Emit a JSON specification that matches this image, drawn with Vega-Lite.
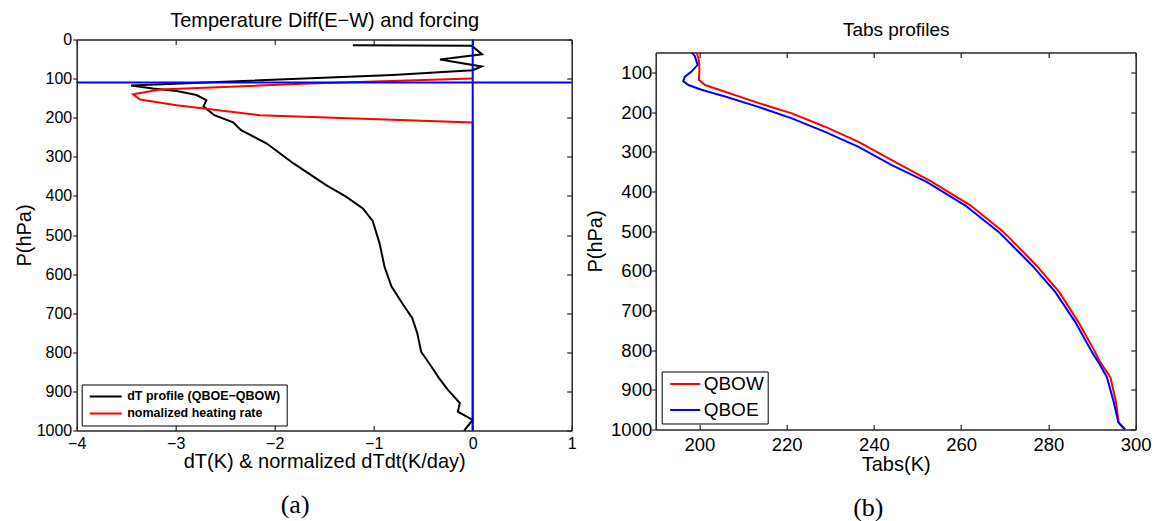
{
  "$schema": "https://vega.github.io/schema/vega-lite/v6.json",
  "background": "white",
  "padding": {"left": 13.7, "top": 10.5, "right": 5, "bottom": 5},
  "config": {
    "view": {"stroke": null},
    "font": "Liberation Sans",
    "axis": {"grid": false, "domainColor": "#262626", "domainWidth": 1.5, "tickColor": "#262626", "tickWidth": 1.2, "labelColor": "black", "titleColor": "black", "labelFont": "Liberation Sans", "titleFont": "Liberation Sans", "titleFontWeight": "normal", "titleFontSize": 20, "labelFlush": false, "labelOverlap": false}
  },
  "datasets": {
    "leftLines": [
      {"s": "dT profile (QBOE−QBOW)", "o": 1, "x": -1.21, "p": 15},
      {"s": "dT profile (QBOE−QBOW)", "o": 2, "x": -0.01, "p": 16},
      {"s": "dT profile (QBOE−QBOW)", "o": 3, "x": 0.095, "p": 38},
      {"s": "dT profile (QBOE−QBOW)", "o": 4, "x": -0.33, "p": 51},
      {"s": "dT profile (QBOE−QBOW)", "o": 5, "x": 0.09, "p": 69},
      {"s": "dT profile (QBOE−QBOW)", "o": 6, "x": 0.0, "p": 78.5},
      {"s": "dT profile (QBOE−QBOW)", "o": 7, "x": -0.81, "p": 91},
      {"s": "dT profile (QBOE−QBOW)", "o": 8, "x": -3.45, "p": 117.5},
      {"s": "dT profile (QBOE−QBOW)", "o": 9, "x": -3.23, "p": 125.4},
      {"s": "dT profile (QBOE−QBOW)", "o": 10, "x": -2.99, "p": 132},
      {"s": "dT profile (QBOE−QBOW)", "o": 11, "x": -2.79, "p": 142},
      {"s": "dT profile (QBOE−QBOW)", "o": 12, "x": -2.69, "p": 155},
      {"s": "dT profile (QBOE−QBOW)", "o": 13, "x": -2.72, "p": 171},
      {"s": "dT profile (QBOE−QBOW)", "o": 14, "x": -2.61, "p": 193.5},
      {"s": "dT profile (QBOE−QBOW)", "o": 15, "x": -2.42, "p": 212},
      {"s": "dT profile (QBOE−QBOW)", "o": 16, "x": -2.34, "p": 232},
      {"s": "dT profile (QBOE−QBOW)", "o": 17, "x": -2.08, "p": 266},
      {"s": "dT profile (QBOE−QBOW)", "o": 18, "x": -1.81, "p": 317},
      {"s": "dT profile (QBOE−QBOW)", "o": 19, "x": -1.48, "p": 372.5},
      {"s": "dT profile (QBOE−QBOW)", "o": 20, "x": -1.28, "p": 402},
      {"s": "dT profile (QBOE−QBOW)", "o": 21, "x": -1.11, "p": 432},
      {"s": "dT profile (QBOE−QBOW)", "o": 22, "x": -1.01, "p": 464},
      {"s": "dT profile (QBOE−QBOW)", "o": 23, "x": -0.94, "p": 522},
      {"s": "dT profile (QBOE−QBOW)", "o": 24, "x": -0.89, "p": 582},
      {"s": "dT profile (QBOE−QBOW)", "o": 25, "x": -0.82, "p": 632},
      {"s": "dT profile (QBOE−QBOW)", "o": 26, "x": -0.71, "p": 675},
      {"s": "dT profile (QBOE−QBOW)", "o": 27, "x": -0.61, "p": 713},
      {"s": "dT profile (QBOE−QBOW)", "o": 28, "x": -0.56, "p": 751},
      {"s": "dT profile (QBOE−QBOW)", "o": 29, "x": -0.52, "p": 799},
      {"s": "dT profile (QBOE−QBOW)", "o": 30, "x": -0.44, "p": 828},
      {"s": "dT profile (QBOE−QBOW)", "o": 31, "x": -0.34, "p": 866},
      {"s": "dT profile (QBOE−QBOW)", "o": 32, "x": -0.25, "p": 896},
      {"s": "dT profile (QBOE−QBOW)", "o": 33, "x": -0.13, "p": 930},
      {"s": "dT profile (QBOE−QBOW)", "o": 34, "x": -0.15, "p": 952},
      {"s": "dT profile (QBOE−QBOW)", "o": 35, "x": 0.0, "p": 973},
      {"s": "dT profile (QBOE−QBOW)", "o": 36, "x": -0.085, "p": 1000},
      {"s": "nomalized heating rate", "o": 1, "x": 0.0, "p": 100},
      {"s": "nomalized heating rate", "o": 2, "x": -1.65, "p": 112.6},
      {"s": "nomalized heating rate", "o": 3, "x": -3.16, "p": 128},
      {"s": "nomalized heating rate", "o": 4, "x": -3.43, "p": 140},
      {"s": "nomalized heating rate", "o": 5, "x": -3.36, "p": 153.5},
      {"s": "nomalized heating rate", "o": 6, "x": -2.99, "p": 168},
      {"s": "nomalized heating rate", "o": 7, "x": -2.15, "p": 193.5},
      {"s": "nomalized heating rate", "o": 8, "x": 0.0, "p": 212.3},
      {"s": "nomalized heating rate", "o": 9, "x": 0.0, "p": 1000}
    ],
    "qbow": [
      {"s": "QBOW", "o": 1, "t": 199.4, "p": 50},
      {"s": "QBOW", "o": 2, "t": 199.8, "p": 65},
      {"s": "QBOW", "o": 3, "t": 200.0, "p": 81},
      {"s": "QBOW", "o": 4, "t": 200.0, "p": 100},
      {"s": "QBOW", "o": 5, "t": 199.9, "p": 119},
      {"s": "QBOW", "o": 6, "t": 201.3, "p": 132},
      {"s": "QBOW", "o": 7, "t": 205.9, "p": 149},
      {"s": "QBOW", "o": 8, "t": 213.5, "p": 177},
      {"s": "QBOW", "o": 9, "t": 221.2, "p": 203.5},
      {"s": "QBOW", "o": 10, "t": 228.8, "p": 237},
      {"s": "QBOW", "o": 11, "t": 236.5, "p": 275},
      {"s": "QBOW", "o": 12, "t": 244.1, "p": 321},
      {"s": "QBOW", "o": 13, "t": 253.3, "p": 376},
      {"s": "QBOW", "o": 14, "t": 262.1, "p": 435},
      {"s": "QBOW", "o": 15, "t": 269.7, "p": 502},
      {"s": "QBOW", "o": 16, "t": 277.2, "p": 586},
      {"s": "QBOW", "o": 17, "t": 282.5, "p": 654},
      {"s": "QBOW", "o": 18, "t": 286.9, "p": 730},
      {"s": "QBOW", "o": 19, "t": 290.7, "p": 805},
      {"s": "QBOW", "o": 20, "t": 291.9, "p": 831},
      {"s": "QBOW", "o": 21, "t": 294.2, "p": 868},
      {"s": "QBOW", "o": 22, "t": 295.5, "p": 932},
      {"s": "QBOW", "o": 23, "t": 296.1, "p": 982},
      {"s": "QBOW", "o": 24, "t": 297.6, "p": 1000}
    ],
    "qboe": [
      {"s": "QBOE", "o": 1, "t": 198.3, "p": 50},
      {"s": "QBOE", "o": 2, "t": 199.0, "p": 60},
      {"s": "QBOE", "o": 3, "t": 199.6, "p": 81},
      {"s": "QBOE", "o": 4, "t": 198.2, "p": 98},
      {"s": "QBOE", "o": 5, "t": 196.7, "p": 111},
      {"s": "QBOE", "o": 6, "t": 196.3, "p": 122},
      {"s": "QBOE", "o": 7, "t": 197.5, "p": 132},
      {"s": "QBOE", "o": 8, "t": 200.5, "p": 144},
      {"s": "QBOE", "o": 9, "t": 205.9, "p": 161},
      {"s": "QBOE", "o": 10, "t": 213.5, "p": 187},
      {"s": "QBOE", "o": 11, "t": 221.2, "p": 216},
      {"s": "QBOE", "o": 12, "t": 228.8, "p": 250},
      {"s": "QBOE", "o": 13, "t": 236.5, "p": 288},
      {"s": "QBOE", "o": 14, "t": 244.1, "p": 334},
      {"s": "QBOE", "o": 15, "t": 252.1, "p": 376},
      {"s": "QBOE", "o": 16, "t": 260.9, "p": 435},
      {"s": "QBOE", "o": 17, "t": 268.6, "p": 502},
      {"s": "QBOE", "o": 18, "t": 276.2, "p": 586},
      {"s": "QBOE", "o": 19, "t": 281.6, "p": 654},
      {"s": "QBOE", "o": 20, "t": 286.2, "p": 730},
      {"s": "QBOE", "o": 21, "t": 290.0, "p": 805},
      {"s": "QBOE", "o": 22, "t": 291.5, "p": 831},
      {"s": "QBOE", "o": 23, "t": 293.4, "p": 868},
      {"s": "QBOE", "o": 24, "t": 295.0, "p": 932},
      {"s": "QBOE", "o": 25, "t": 296.0, "p": 982},
      {"s": "QBOE", "o": 26, "t": 297.5, "p": 1000}
    ]
  },
  "hconcat": [
    {
      "width": 495,
      "height": 391,
      "title": {"text": "(a)", "orient": "bottom", "font": "Liberation Serif", "fontSize": 26, "fontWeight": "normal", "frame": "bounds", "anchor": "middle", "offset": 21, "color": "black"},
      "layer": [
        {
          "data": {"name": "leftLines"},
          "mark": {"type": "line", "strokeWidth": 2},
          "encoding": {
            "x": {"field": "x", "type": "quantitative", "scale": {"domain": [-4, 1], "nice": false, "zero": false},
              "axis": {"orient": "bottom", "values": [-4, -3, -2, -1, 0, 1], "tickSize": -5, "labelPadding": 10, "labelFontSize": 16, "title": "dT(K) & normalized dTdt(K/day)", "titlePadding": 0}},
            "y": {"field": "p", "type": "quantitative", "scale": {"domain": [0, 1000], "reverse": true, "nice": false, "zero": false},
              "axis": {"orient": "left", "format": "d", "values": [0, 100, 200, 300, 400, 500, 600, 700, 800, 900, 1000], "tickSize": 4, "labelPadding": 1, "labelFontSize": 16, "title": "P(hPa)", "titlePadding": 2}},
            "color": {"field": "s", "type": "nominal",
              "scale": {"domain": ["dT profile (QBOE−QBOW)", "nomalized heating rate"], "range": ["black", "red"]},
              "legend": {"orient": "bottom-left", "title": null, "offset": 5, "strokeColor": "black", "fillColor": "white", "padding": 5.5, "symbolType": "M-2.9,0H2.9", "symbolStrokeWidth": 2, "symbolSize": 121, "symbolOffset": 12, "labelFontSize": 12.5, "labelFontWeight": "bold", "labelFont": "Liberation Sans", "labelColor": "black", "labelLimit": 400, "rowPadding": 4, "labelOffset": 15}},
            "order": {"field": "o", "type": "quantitative"}
          }
        },
        {
          "data": {"values": [{"x": 0}]},
          "mark": {"type": "rule", "color": "blue", "strokeWidth": 2},
          "encoding": {
            "x": {"field": "x", "type": "quantitative",
              "axis": {"orient": "top", "values": [-4, -3, -2, -1, 0, 1], "tickSize": -5, "labels": false, "title": "Temperature Diff(E−W) and forcing", "titlePadding": 8}}
          }
        },
        {
          "data": {"values": [{"p": 110}]},
          "mark": {"type": "rule", "color": "blue", "strokeWidth": 2},
          "encoding": {
            "y": {"field": "p", "type": "quantitative",
              "axis": {"orient": "right", "values": [0, 100, 200, 300, 400, 500, 600, 700, 800, 900, 1000], "tickSize": -5, "labels": false, "title": null}}
          }
        }
      ],
      "resolve": {"axis": {"x": "independent", "y": "independent"}}
    },
    {
      "vconcat": [
        {"width": 480, "height": 13, "data": {"values": []}, "mark": "point"},
        {
          "width": 480,
          "height": 377,
          "title": {"text": "(b)", "orient": "bottom", "font": "Liberation Serif", "fontSize": 26, "fontWeight": "normal", "frame": "bounds", "anchor": "middle", "offset": 21, "color": "black"},
          "layer": [
            {
              "data": {"name": "qbow"},
              "mark": {"type": "line", "strokeWidth": 2},
              "encoding": {
                "x": {"field": "t", "type": "quantitative", "scale": {"domain": [190, 300], "nice": false, "zero": false},
                  "axis": {"orient": "bottom", "values": [200, 220, 240, 260, 280, 300], "tickSize": -5, "labelPadding": 11, "labelFontSize": 18.5, "title": "Tabs(K)", "titlePadding": 0.5}},
                "y": {"field": "p", "type": "quantitative", "scale": {"domain": [50, 1000], "reverse": true, "nice": false, "zero": false},
                  "axis": {"orient": "left", "format": "d", "values": [100, 200, 300, 400, 500, 600, 700, 800, 900, 1000], "tickSize": 4, "labelPadding": 0, "labelFontSize": 18.5, "title": "P(hPa)", "titlePadding": 5}},
                "color": {"field": "s", "type": "nominal",
                  "scale": {"domain": ["QBOW", "QBOE"], "range": ["red", "blue"]},
                  "legend": {"orient": "bottom-left", "title": null, "offset": 6, "strokeColor": "black", "fillColor": "white", "padding": 3, "symbolType": "M-2.5,0H2.5", "symbolStrokeWidth": 2, "symbolSize": 144, "symbolOffset": 11, "labelFontSize": 19, "labelFont": "Liberation Sans", "labelColor": "black", "rowPadding": 6, "labelOffset": 9}},
                "order": {"field": "o", "type": "quantitative"}
              }
            },
            {
              "data": {"name": "qboe"},
              "mark": {"type": "line", "strokeWidth": 2, "color": "blue"},
              "encoding": {
                "x": {"field": "t", "type": "quantitative",
                  "axis": {"orient": "top", "values": [200, 220, 240, 260, 280, 300], "tickSize": -5, "labels": false, "title": "Tabs profiles", "titlePadding": 12.5, "titleFontSize": 19}},
                "y": {"field": "p", "type": "quantitative",
                  "axis": {"orient": "right", "values": [100, 200, 300, 400, 500, 600, 700, 800, 900, 1000], "tickSize": -5, "labels": false, "title": null}},
                "order": {"field": "o", "type": "quantitative"}
              }
            }
          ],
          "resolve": {"axis": {"x": "independent", "y": "independent"}}
        }
      ],
      "spacing": 0,
      "bounds": "flush",
      "resolve": {"scale": {"color": "independent"}, "legend": {"color": "independent"}}
    }
  ],
  "spacing": 84,
  "bounds": "flush",
  "resolve": {"scale": {"color": "independent", "x": "independent", "y": "independent"}, "legend": {"color": "independent"}}
}
